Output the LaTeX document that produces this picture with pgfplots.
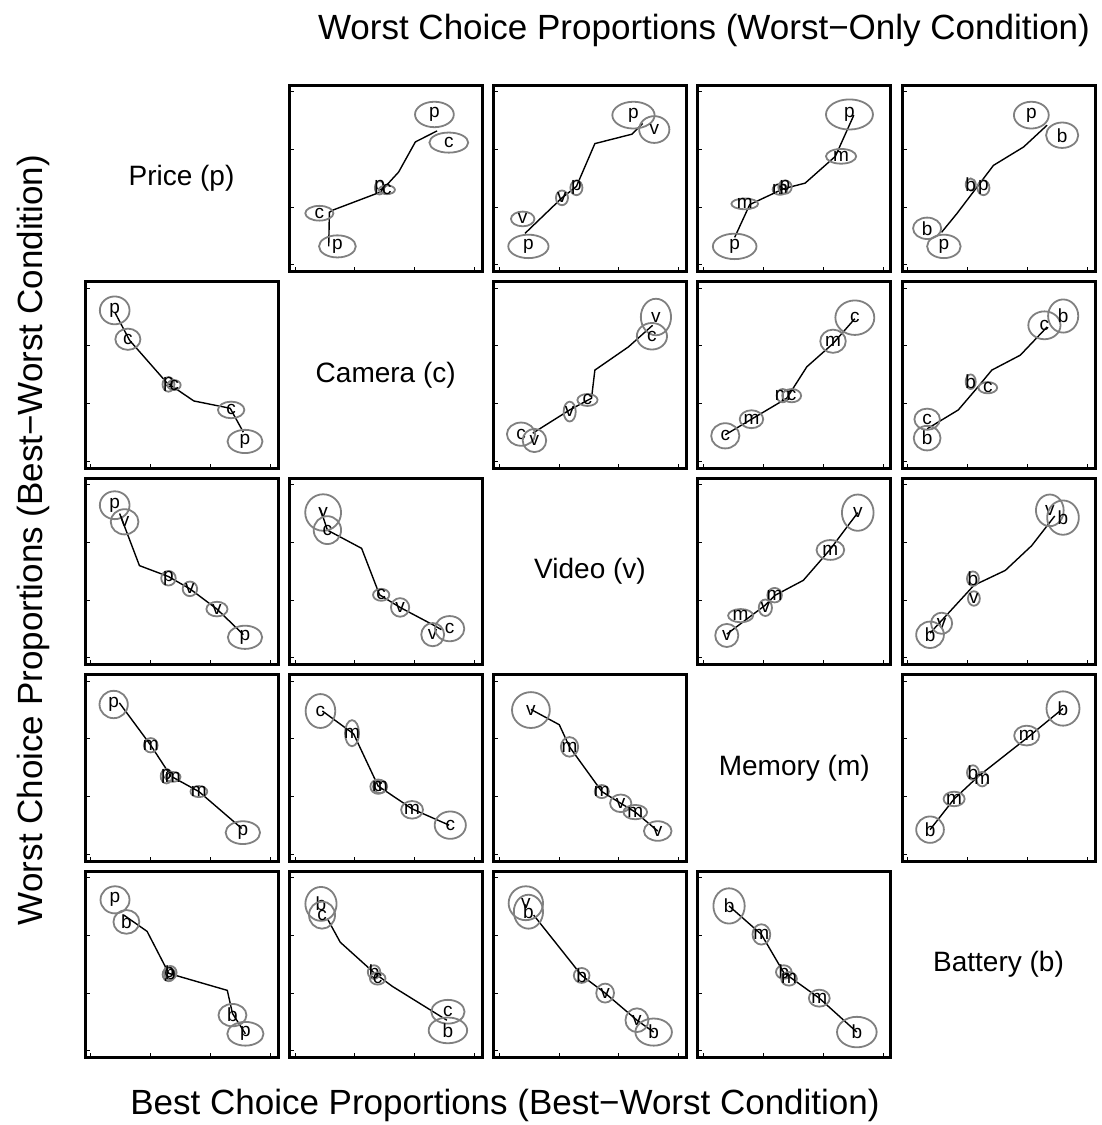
\documentclass[border=0pt]{standalone}
\usepackage{fontspec}
\setmainfont{Liberation Sans}
\usepackage{pgfplots}
\pgfplotsset{compat=1.18}
\newcommand\lfont{\fontsize{19}{19}\selectfont}
\newcommand\dfont{\fontsize{28}{32}\selectfont}
\newcommand\tfont{\fontsize{35}{40}\selectfont}
\definecolor{elg}{RGB}{128,128,128}
\newcommand\setsc[4]{\pgfmathsetmacro\sx{193/(#2-#1)}\global\let\sx\sx\pgfmathsetmacro\sy{186.5/(#4-#3)}\global\let\sy\sy}
\pgfdeclareplotmark{ell}{\pgfpathellipse{\pgfpointorigin}{\pgfqpoint{\erx pt}{0pt}}{\pgfqpoint{0pt}{\ery pt}}\pgfusepathqstroke}
\pgfplotsset{
 pan/.style n args={6}{
   at={(#1pt,-#2pt)}, anchor=north west,
   scale only axis, width=193pt, height=186.5pt,
   xmin=0,xmax=1,ymin=0,ymax=1,
   xtick={0.03,0.34,0.65,0.96}, ytick={0.035,0.345,0.655,0.965},
   xticklabels={}, yticklabels={},
   xtick pos=left, ytick pos=left, tick align=inside,
   major tick length=4.5pt, tick style={black, line width=1pt},
   axis line style={line width=3pt},
   clip=false,
   x filter/.expression={(x-#3)/(#4-#3)},
   y filter/.expression={(#6-y)/(#6-#5)},
 },
 ell/.style={only marks, mark=ell, mark options={draw=elg, line width=1.8pt, solid},
   visualization depends on={\thisrow{rx}*\sx \as \erx},
   visualization depends on={\thisrow{ry}*\sy \as \ery},
   nodes near coords, point meta=explicit symbolic,
   every node near coord/.append style={anchor=center, inner sep=0pt, font=\lfont, text=black}},
 crv/.style={black, line width=1.4pt, mark=none},
}
\begin{document}
\begin{tikzpicture}
\useasboundingbox (0,0) rectangle (1102pt,-1125pt);
% ---------- Row 1 ----------
\setsc{28}{605}{15}{572}
\begin{axis}[pan={289.25}{85}{28}{605}{15}{572}]
\addplot[ell] table[meta=l]{
x y rx ry l
462 103 58 38 p
505 187 58 30 c
298 322 14 20 p
320 328 24 13 c
118 398 42 22 c
172 497 55 33 p
};
\addplot[crv] coordinates {(146,497) (148,395) (160,388) (300,335) (355,275) (405,185) (470,152)};
\end{axis}
\setsc{28}{603}{15}{572}
\begin{axis}[pan={493.5}{85}{28}{603}{15}{572}]
\addplot[ell] table[meta=l]{
x y rx ry l
445 105 63 40 p
507 148 45 40 v
275 322 18 22 p
232 352 18 22 v
115 415 35 22 v
132 497 60 35 p
};
\addplot[crv] coordinates {(122,458) (232,352) (275,318) (330,190) (440,162) (472,130)};
\end{axis}
\setsc{25}{600}{15}{572}
\begin{axis}[pan={697.75}{85}{25}{600}{15}{572}]
\addplot[ell] table[meta=l]{
x y rx ry l
477 103 70 45 p
452 228 45 22 m
270 327 22 16 m
285 320 20 20 p
165 370 40 16 m
135 497 65 38 p
};
\addplot[crv] coordinates {(135,470) (180,372) (280,325) (345,308) (435,228) (490,105)};
\end{axis}
\setsc{22}{598}{15}{572}
\begin{axis}[pan={902}{85}{22}{598}{15}{572}]
\addplot[ell] table[meta=l]{
x y rx ry l
408 105 52 40 p
500 165 48 38 b
227 312 15 18 b
265 322 18 22 p
97 443 42 32 b
147 497 50 35 p
};
\addplot[crv] coordinates {(140,455) (185,400) (295,255) (385,200) (455,135)};
\end{axis}
% ---------- Row 2 ----------
\setsc{15}{600}{18}{580}
\begin{axis}[pan={85}{281.5}{15}{600}{18}{580}]
\addplot[ell] table[meta=l]{
x y rx ry l
105 105 45 42 p
145 192 38 32 c
268 328 18 22 p
285 330 20 15 c
458 405 40 25 c
500 500 53 35 p
};
\addplot[crv] coordinates {(105,110) (150,195) (262,322) (345,378) (455,400) (495,472)};
\end{axis}
\setsc{28}{603}{18}{580}
\begin{axis}[pan={493.5}{281.5}{28}{603}{18}{580}]
\addplot[ell] table[meta=l]{
x y rx ry l
512 125 45 55 v
500 183 45 40 c
308 375 30 18 c
255 410 18 30 v
110 478 42 35 c
150 497 35 35 v
};
\addplot[crv] coordinates {(145,475) (255,405) (310,375) (320,370) (330,285) (430,215) (502,150)};
\end{axis}
\setsc{25}{600}{18}{580}
\begin{axis}[pan={697.75}{281.5}{25}{600}{18}{580}]
\addplot[ell] table[meta=l]{
x y rx ry l
493 127 58 52 c
428 198 38 35 m
278 362 18 20 m
305 362 28 20 c
185 433 35 27 m
107 483 42 38 c
};
\addplot[crv] coordinates {(107,480) (185,433) (290,370) (350,275) (428,205) (493,130)};
\end{axis}
\setsc{22}{598}{18}{580}
\begin{axis}[pan={902}{281.5}{22}{598}{18}{580}]
\addplot[ell] table[meta=l]{
x y rx ry l
447 150 48 42 c
503 122 45 50 b
227 320 15 22 b
278 338 28 17 c
97 433 38 32 c
97 490 40 37 b
};
\addplot[crv] coordinates {(97,462) (190,405) (245,340) (290,285) (375,240) (455,155)};
\end{axis}
% ---------- Row 3 ----------
\setsc{15}{600}{28}{590}
\begin{axis}[pan={85}{478}{15}{600}{28}{590}]
\addplot[ell] table[meta=l]{
x y rx ry l
105 110 45 42 p
135 160 42 38 v
268 330 22 22 p
333 362 22 22 v
415 423 32 22 v
500 508 52 35 p
};
\addplot[crv] coordinates {(120,135) (180,292) (268,325) (333,362) (415,423) (495,500)};
\end{axis}
\setsc{623}{1215}{28}{590}
\begin{axis}[pan={289.25}{478}{623}{1215}{28}{590}]
\addplot[ell] table[meta=l]{
x y rx ry l
727 132 55 55 v
740 185 42 42 c
905 380 25 18 c
963 418 28 28 v
1063 500 35 35 v
1115 482 45 38 c
};
\addplot[crv] coordinates {(718,120) (740,185) (845,240) (900,380) (963,418) (1063,470) (1090,485)};
\end{axis}
\setsc{15}{600}{25}{590}
\begin{axis}[pan={697.75}{478}{15}{600}{25}{590}]
\addplot[ell] table[meta=l]{
x y rx ry l
500 130 48 55 v
417 243 42 30 m
248 380 22 22 m
220 418 20 25 v
145 442 38 20 m
103 502 35 35 v
};
\addplot[crv] coordinates {(103,498) (220,410) (250,380) (335,335) (415,243) (500,130)};
\end{axis}
\setsc{627}{1212}{25}{590}
\begin{axis}[pan={902}{478}{627}{1212}{25}{590}]
\addplot[ell] table[meta=l]{
x y rx ry l
1075 123 42 48 v
1115 145 48 52 b
842 330 18 22 b
845 390 18 22 v
747 465 32 32 v
712 500 42 40 b
};
\addplot[crv] coordinates {(712,495) (845,350) (940,305) (1020,230) (1090,140)};
\end{axis}
% ---------- Row 4 ----------
\setsc{15}{520}{18}{590}
\begin{axis}[pan={85}{674.5}{15}{520}{18}{590}]
\addplot[ell] table[meta=l]{
x y rx ry l
90 110 37 42 p
187 235 18 22 m
228 330 15 22 p
245 332 20 15 m
313 377 22 17 m
428 503 45 35 p
};
\addplot[crv] coordinates {(105,105) (187,235) (240,330) (313,377) (425,490)};
\end{axis}
\setsc{535}{1030}{18}{590}
\begin{axis}[pan={289.25}{674.5}{535}{1030}{18}{590}]
\addplot[ell] table[meta=l]{
x y rx ry l
615 130 38 52 c
696 198 18 40 m
763 362 20 22 c
768 362 18 20 m
850 433 28 27 m
948 480 40 42 c
};
\addplot[crv] coordinates {(620,130) (700,200) (763,360) (850,430) (945,480)};
\end{axis}
\setsc{1055}{1545}{18}{590}
\begin{axis}[pan={493.5}{674.5}{1055}{1545}{18}{590}]
\addplot[ell] table[meta=l]{
x y rx ry l
1150 127 48 55 v
1248 240 22 30 m
1330 377 18 20 m
1378 413 27 27 v
1415 440 30 22 m
1472 498 35 30 v
};
\addplot[crv] coordinates {(1150,125) (1222,172) (1248,240) (1330,377) (1378,413) (1415,440) (1472,498)};
\end{axis}
\setsc{627}{1212}{615}{1180}
\begin{axis}[pan={902}{674.5}{627}{1212}{615}{1180}]
\addplot[ell] table[meta=l]{
x y rx ry l
1115 718 50 52 b
1005 800 38 30 m
842 912 18 22 b
870 932 18 22 m
785 992 32 22 m
712 1085 42 40 b
};
\addplot[crv] coordinates {(712,1085) (785,992) (860,922) (1005,808) (1115,718)};
\end{axis}
% ---------- Row 5 ----------
\setsc{10}{383}{20}{570}
\begin{axis}[pan={85}{871}{10}{383}{20}{570}]
\addplot[ell] table[meta=l]{
x y rx ry l
68 105 28 40 p
90 170 25 35 b
172 325 12 20 p
175 320 12 20 b
295 445 27 33 b
320 500 35 35 p
};
\addplot[crv] coordinates {(85,150) (130,198) (172,322) (285,372) (295,440) (320,500)};
\end{axis}
\setsc{402}{773}{20}{570}
\begin{axis}[pan={289.25}{871}{402}{773}{20}{570}]
\addplot[ell] table[meta=l]{
x y rx ry l
463 117 30 50 b
465 150 25 40 c
565 318 12 20 b
572 337 15 18 c
707 435 32 35 c
707 490 37 38 b
};
\addplot[crv] coordinates {(475,160) (500,230) (565,320) (600,360) (705,460)};
\end{axis}
\setsc{793}{1163}{20}{570}
\begin{axis}[pan={493.5}{871}{793}{1163}{20}{570}]
\addplot[ell] table[meta=l]{
x y rx ry l
855 115 33 50 v
860 140 28 50 b
962 328 15 22 b
1007 380 17 28 v
1068 460 22 35 v
1100 495 35 40 b
};
\addplot[crv] coordinates {(870,150) (962,328) (1007,380) (1068,460) (1100,495)};
\end{axis}
\setsc{1185}{1555}{20}{570}
\begin{axis}[pan={697.75}{871}{1185}{1555}{20}{570}]
\addplot[ell] table[meta=l]{
x y rx ry l
1245 123 30 52 b
1307 207 17 30 m
1350 318 15 20 b
1360 338 15 20 m
1418 395 20 25 m
1490 495 38 45 b
};
\addplot[crv] coordinates {(1245,123) (1307,207) (1350,320) (1418,395) (1490,495)};
\end{axis}
% ---------- diagonal labels ----------
\node[font=\dfont] at (181.5pt,-178.25pt) {Price (p)};
\node[font=\dfont] at (385.75pt,-374.75pt) {Camera (c)};
\node[font=\dfont] at (590pt,-571.25pt) {Video (v)};
\node[font=\dfont] at (794.25pt,-767.75pt) {Memory (m)};
\node[font=\dfont] at (998.5pt,-964.25pt) {Battery (b)};
% ---------- titles ----------
\node[font=\tfont] at (704pt,-30pt) {Worst Choice Proportions (Worst−Only Condition)};
\node[font=\tfont] at (505pt,-1105pt) {Best Choice Proportions (Best−Worst Condition)};
\node[font=\tfont, rotate=90] at (33pt,-540pt) {Worst Choice Proportions (Best−Worst Condition)};
\end{tikzpicture}
\end{document}
